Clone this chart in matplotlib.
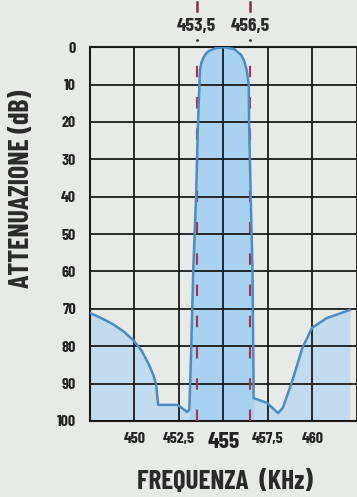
import numpy as np
import matplotlib.pyplot as plt

plt.rcParams['font.family'] = ['Barlow Condensed', 'DejaVu Sans']

# curva di risposta del filtro
freq = [447.5, 448.1, 448.76, 449.4, 449.96, 450.4, 450.78, 451.05, 451.22, 451.33,
        452.42, 452.97, 453.08, 453.13, 453.19, 453.3, 453.46, 453.57, 453.65, 453.68,
        453.75, 453.85, 454.0, 454.17, 454.6, 455.05, 455.6, 455.98, 456.15, 456.3,
        456.42, 456.44, 456.53, 456.63, 456.69, 456.69, 457.46, 458.06, 458.33,
        458.83, 459.43, 459.97, 460.79, 462.1]
atten = [71.1, 72.4, 74.0, 76.1, 78.5, 81.2, 84.6, 87.6, 90.4, 95.7,
         95.7, 97.6, 97.0, 90.0, 80.0, 60.0, 40.0, 20.0, 10.0, 6.0,
         4.3, 3.0, 1.8, 1.0, 0.2, 0.0, 0.5, 2.0, 3.5, 6.0,
         10.0, 20.0, 40.0, 60.0, 90.0, 93.9, 95.2, 97.9, 96.5,
         89.8, 80.5, 75.1, 72.5, 70.3]

x_ticks = [450, 452.5, 455, 457.5, 460]
x_labels = ['450', '452,5', '455', '457,5', '460']
y_ticks = [0, 10, 20, 30, 40, 50, 60, 70, 80, 90, 100]
band = [453.5, 456.5]
band_labels = ['453,5', '456,5']

bg = '#e8eae7'
fig = plt.figure(figsize=(3.57, 4.97), dpi=100, facecolor=bg)
ax = fig.add_axes([0.252, 0.153, 0.748, 0.752], facecolor=bg)

f_arr = np.array(freq)
a_arr = np.array(atten)
ax.fill_between(f_arr, a_arr, 100, color='#c2dbee', lw=0, zorder=1)
inside = (f_arr >= 453.0) & (f_arr <= 456.7)
ax.fill_between(f_arr, a_arr, 100, where=inside, color='#a9d1f0', lw=0, zorder=1)
ax.plot(freq, atten, color='#4a8cc4', lw=1.8, zorder=4, solid_joinstyle='round')

for f in band:
    ax.axvline(f, color='#a8324f', lw=1.5, dashes=(5.5, 9.5), zorder=3)

ax.set_xlim(447.5, 462.1)
ax.set_ylim(100, 0)
ax.set_xticks([447.5, 450, 452.5, 455, 457.5, 460, 462.5])
ax.set_yticks(y_ticks)
ax.grid(True, color='#1a1a1a', lw=1.3, zorder=2)
ax.tick_params(length=0)
ax.set_xticklabels([])
ax.set_yticklabels([str(v) for v in y_ticks], fontsize=11.5, fontweight='bold', color='#222222')
ax.tick_params(axis='y', pad=10)

for s in ['left', 'top', 'bottom']:
    ax.spines[s].set_color('#1a1a1a')
    ax.spines[s].set_linewidth(1.5)
ax.spines['right'].set_visible(False)

trans = ax.get_xaxis_transform()
for v, lab in zip(x_ticks, x_labels):
    big = lab == '455'
    ax.text(v, -0.03, lab, transform=trans, ha='center', va='top',
            fontsize=17 if big else 11.5, fontweight='bold', color='#222222')

for v, lab in zip(band, band_labels):
    ax.text(v, 1.055, lab, transform=trans, ha='center', va='center',
            fontsize=14, fontweight='bold', color='#2a2a2a')
    ax.plot([v, v], [1.097, 1.122], transform=trans, color='#8a2a45', lw=1.8, clip_on=False)
    ax.plot([v], [1.019], transform=trans, marker='.', ms=2, color='#333333', clip_on=False)

fig.text(0.63, 0.03, 'FREQUENZA  (KHz)', ha='center', va='center',
         fontsize=19.5, fontweight='bold', color='#2a2a2a')
fig.text(0.06, 0.62, 'ATTENUAZIONE (dB)', ha='center', va='center', rotation=90,
         fontsize=20, fontweight='bold', color='#2a2a2a')

fig.savefig('out.png', dpi=100, facecolor=bg)
